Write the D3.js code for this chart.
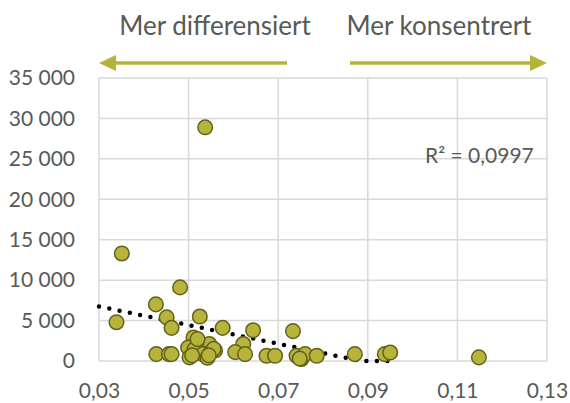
<!DOCTYPE html>
<html>
<head>
<meta charset="utf-8">
<script src="https://cdn.jsdelivr.net/npm/d3@7"></script>
<style>
  body { margin: 0; background: #fff; }
  svg text { font-family: Lato, "Open Sans", sans-serif; fill: #595959; }
</style>
</head>
<body>
<div id="chart"></div>
<script>
// concentration index (x) vs value (y)
const xValues = [0.0537, 0.0351, 0.0481, 0.0427, 0.0451, 0.0339, 0.0462, 0.0525, 0.0576, 0.0644,
                 0.0733, 0.0511, 0.0622, 0.0546, 0.0503, 0.0518, 0.0559, 0.0428, 0.0456, 0.0462,
                 0.0499, 0.0502, 0.0513, 0.0520, 0.0532, 0.0542, 0.0550, 0.0556, 0.0604, 0.0626,
                 0.0674, 0.0693, 0.0741, 0.0752, 0.0760, 0.0786, 0.0871, 0.0938, 0.0950, 0.1148,
                 0.0508, 0.0545, 0.0748]
const yValues = [28900, 13300, 9100, 7000, 5400, 4800, 4100, 5500, 4100, 3800,
                 3700, 2900, 2100, 2100, 1700, 2300, 1300, 850, 850, 850,
                 1650, 450, 1450, 2700, 850, 400, 1100, 1500, 1100, 850,
                 650, 650, 650, 250, 850, 650, 850, 850, 1050, 450,
                 700, 700, 300]

// linear trendline as drawn (clipped at 0)
const trendX = [0.03, 0.0885, 0.095]
const trendY = [6750, 0, 0]
const rSquared = 'R² = 0,0997'

const xTicks = [0.03, 0.05, 0.07, 0.09, 0.11, 0.13]
const yTicks = [0, 5000, 10000, 15000, 20000, 25000, 30000, 35000]
const leftLabel = 'Mer differensiert'
const rightLabel = 'Mer konsentrert'

const width = 570
const height = 403
const margin = {top: 78, right: 23, bottom: 42, left: 99}

const points = xValues.map((x, i) => ({x: x, y: yValues[i]}))
const trend = trendX.map((x, i) => ({x: x, y: trendY[i]}))

const locale = d3.formatLocale({decimal: ',', thousands: '\u00a0', grouping: [3], currency: ['', '']})

const svg = d3.select('#chart').append('svg')
    .attr('width', width)
    .attr('height', height)

const xScale = d3.scaleLinear()
    .domain([0.03, 0.13])
    .range([margin.left, width - margin.right])

const yScale = d3.scaleLinear()
    .domain([0, 35000])
    .range([height - margin.bottom, margin.top])

// grid
const grid = svg.append('g').attr('class', 'grid')
grid.selectAll('.hline')
    .data(yTicks)
    .enter()
    .append('line')
    .attr('x1', xScale(0.03))
    .attr('x2', xScale(0.13))
    .attr('y1', d => yScale(d))
    .attr('y2', d => yScale(d))
    .attr('stroke', '#d9d9d9')
    .attr('stroke-width', 1.5)
grid.selectAll('.vline')
    .data(xTicks)
    .enter()
    .append('line')
    .attr('x1', d => xScale(d))
    .attr('x2', d => xScale(d))
    .attr('y1', yScale(0))
    .attr('y2', yScale(35000))
    .attr('stroke', '#d9d9d9')
    .attr('stroke-width', 1.5)

// axes (labels only)
const xAxis = d3.axisBottom(xScale)
    .tickValues(xTicks)
    .tickSize(0)
    .tickPadding(22)
    .tickFormat(locale.format('.2f'))
const yAxis = d3.axisLeft(yScale)
    .tickValues(yTicks)
    .tickSize(0)
    .tickPadding(24)
    .tickFormat(locale.format(',d'))

svg.append('g')
    .attr('transform', `translate(0, ${yScale(0)})`)
    .call(xAxis)
    .call(g => g.select('.domain').remove())
    .selectAll('text')
    .attr('font-size', 21)
    .attr('font-family', null)

svg.append('g')
    .attr('transform', `translate(${margin.left}, 0)`)
    .call(yAxis)
    .call(g => g.select('.domain').remove())
    .selectAll('text')
    .attr('font-size', 21)
    .attr('font-family', null)

// trendline
const line = d3.line()
    .x(d => xScale(d.x))
    .y(d => yScale(d.y))

svg.append('path')
    .datum(trend)
    .attr('d', line)
    .attr('fill', 'none')
    .attr('stroke', '#000')
    .attr('stroke-width', 4.5)
    .attr('stroke-linecap', 'round')
    .attr('stroke-dasharray', '0 10.5')

// points
svg.append('g')
    .selectAll('circle')
    .data(points)
    .enter()
    .append('circle')
    .attr('cx', d => xScale(d.x))
    .attr('cy', d => yScale(d.y))
    .attr('r', 7.3)
    .attr('fill', '#b7b43b')
    .attr('stroke', '#62611c')
    .attr('stroke-width', 1.5)

svg.append('text')
    .text(rSquared)
    .attr('x', 425)
    .attr('y', 163)
    .attr('font-size', 21)

// direction arrows
const arrowColor = '#b5b43a'
const arrowY = 63
svg.append('text')
    .text(leftLabel)
    .attr('x', 215)
    .attr('y', 35)
    .attr('text-anchor', 'middle')
    .attr('font-size', 26)
svg.append('text')
    .text(rightLabel)
    .attr('x', 439)
    .attr('y', 35)
    .attr('text-anchor', 'middle')
    .attr('font-size', 26)

svg.append('line')
    .attr('x1', xScale(0.03) + 14).attr('x2', 287)
    .attr('y1', arrowY).attr('y2', arrowY)
    .attr('stroke', arrowColor).attr('stroke-width', 3.5)
svg.append('path')
    .attr('d', `M${xScale(0.03)},${arrowY} l17,-8 l0,16 z`)
    .attr('fill', arrowColor)

svg.append('line')
    .attr('x1', 350).attr('x2', xScale(0.13) - 14)
    .attr('y1', arrowY).attr('y2', arrowY)
    .attr('stroke', arrowColor).attr('stroke-width', 3.5)
svg.append('path')
    .attr('d', `M${xScale(0.13)},${arrowY} l-17,-8 l0,16 z`)
    .attr('fill', arrowColor)
</script>
</body>
</html>
